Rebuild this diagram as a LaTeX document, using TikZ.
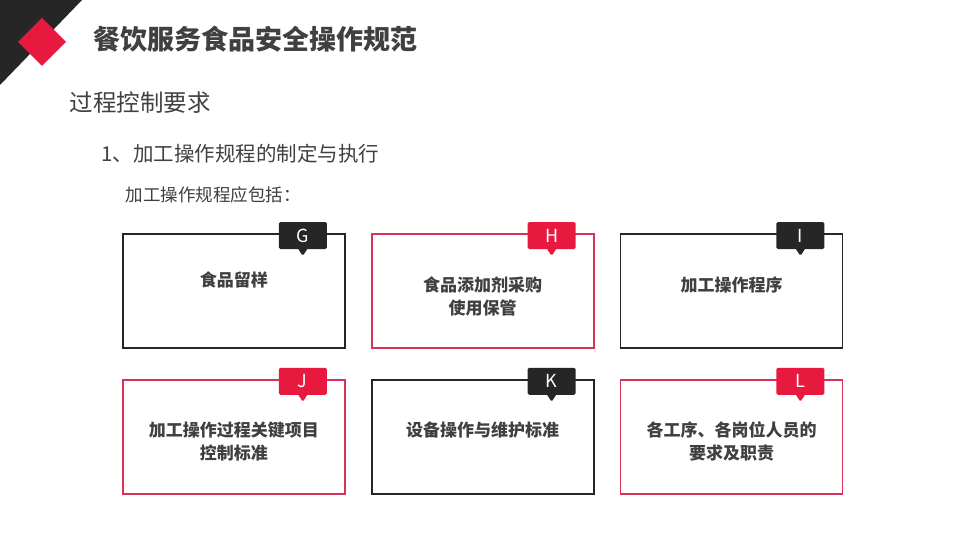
\documentclass[tikz,border=0pt]{standalone}
\usepackage{fontspec}
\setmainfont{Noto Sans CJK SC}
\definecolor{signalrot}{HTML}{E8193F}
\definecolor{rahmenrot}{HTML}{D8325A}
\definecolor{dunkel}{HTML}{262626}
\definecolor{textgrau}{HTML}{404040}
\usetikzlibrary{positioning, calc, shapes.callouts}

\tikzset{
  feld/.style={draw=#1, line width=1.8pt, minimum width=222pt, minimum height=114pt, inner sep=0pt},
  marke/.style={rectangle callout, fill=#1, text=white, minimum width=48pt, minimum height=27pt,
                inner sep=0pt, rounded corners=1.5pt, callout relative pointer={(0pt,-7pt)},
                callout pointer width=9pt, font=\fontsize{18}{18}\selectfont},
  inhalt/.style={text=textgrau, align=center, font=\fontsize{17}{23}\selectfont\bfseries}
}

\begin{document}
\begin{tikzpicture}[x=1pt, y=-1pt]
      \useasboundingbox (0,0) rectangle (960,540);
      \fill[white] (0,0) rectangle (960,540);
      % Corner decoration
      \fill[dunkel] (0,0) -- (82,0) -- (0,85) -- cycle;
      \fill[signalrot] (42,18) -- (66,42) -- (42,66) -- (18,42) -- cycle;
      % Headings
      \node[anchor=west, text=textgrau, font=\fontsize{27}{27}\selectfont\bfseries] (titel) at (90,39) {餐饮服务食品安全操作规范};
      \node[anchor=west, text=textgrau, font=\fontsize{23.5}{24}\selectfont] (abschnitt) at (66,103) {过程控制要求};
      \node[anchor=west, text=textgrau, font=\fontsize{20.5}{21}\selectfont] (punkt) at (98,154) {1、加工操作规程的制定与执行};
      \node[anchor=west, text=textgrau, font=\fontsize{17.5}{18}\selectfont] (liste) at (122,195) {加工操作规程应包括：};
      % Boxes
      \node[feld=dunkel, anchor=north west] (g) at (122,233) {};
      \node[feld=rahmenrot, right=25pt of g] (h) {};
      \node[feld=dunkel, right=25pt of h] (i) {};
      \node[feld=rahmenrot, below=30pt of g] (j) {};
      \node[feld=dunkel, right=25pt of j] (k) {};
      \node[feld=rahmenrot, right=25pt of k] (l) {};
      % Tags
      \foreach \b/\c/\t in {g/dunkel/G, h/signalrot/H, i/dunkel/I, j/signalrot/J, k/dunkel/K, l/signalrot/L}
        \node[marke=\c] (tag\b) at ($(\b.north east)+(-43,2.5)$) {\t};
      % Box texts
      \node[inhalt] (tg) at ($(g.center)+(0,-11)$) {食品留样};
      \node[inhalt] (th) at ($(h.center)+(0,6)$) {食品添加剂采购\\使用保管};
      \node[inhalt] (ti) at ($(i.center)+(0,-6)$) {加工操作程序};
      \node[inhalt] (tj) at ($(j.center)+(0,5)$) {加工操作过程关键项目\\控制标准};
      \node[inhalt] (tk) at ($(k.center)+(0,-7)$) {设备操作与维护标准};
      \node[inhalt] (tl) at ($(l.center)+(0,5)$) {各工序、各岗位人员的\\要求及职责};
\end{tikzpicture}
\end{document}
